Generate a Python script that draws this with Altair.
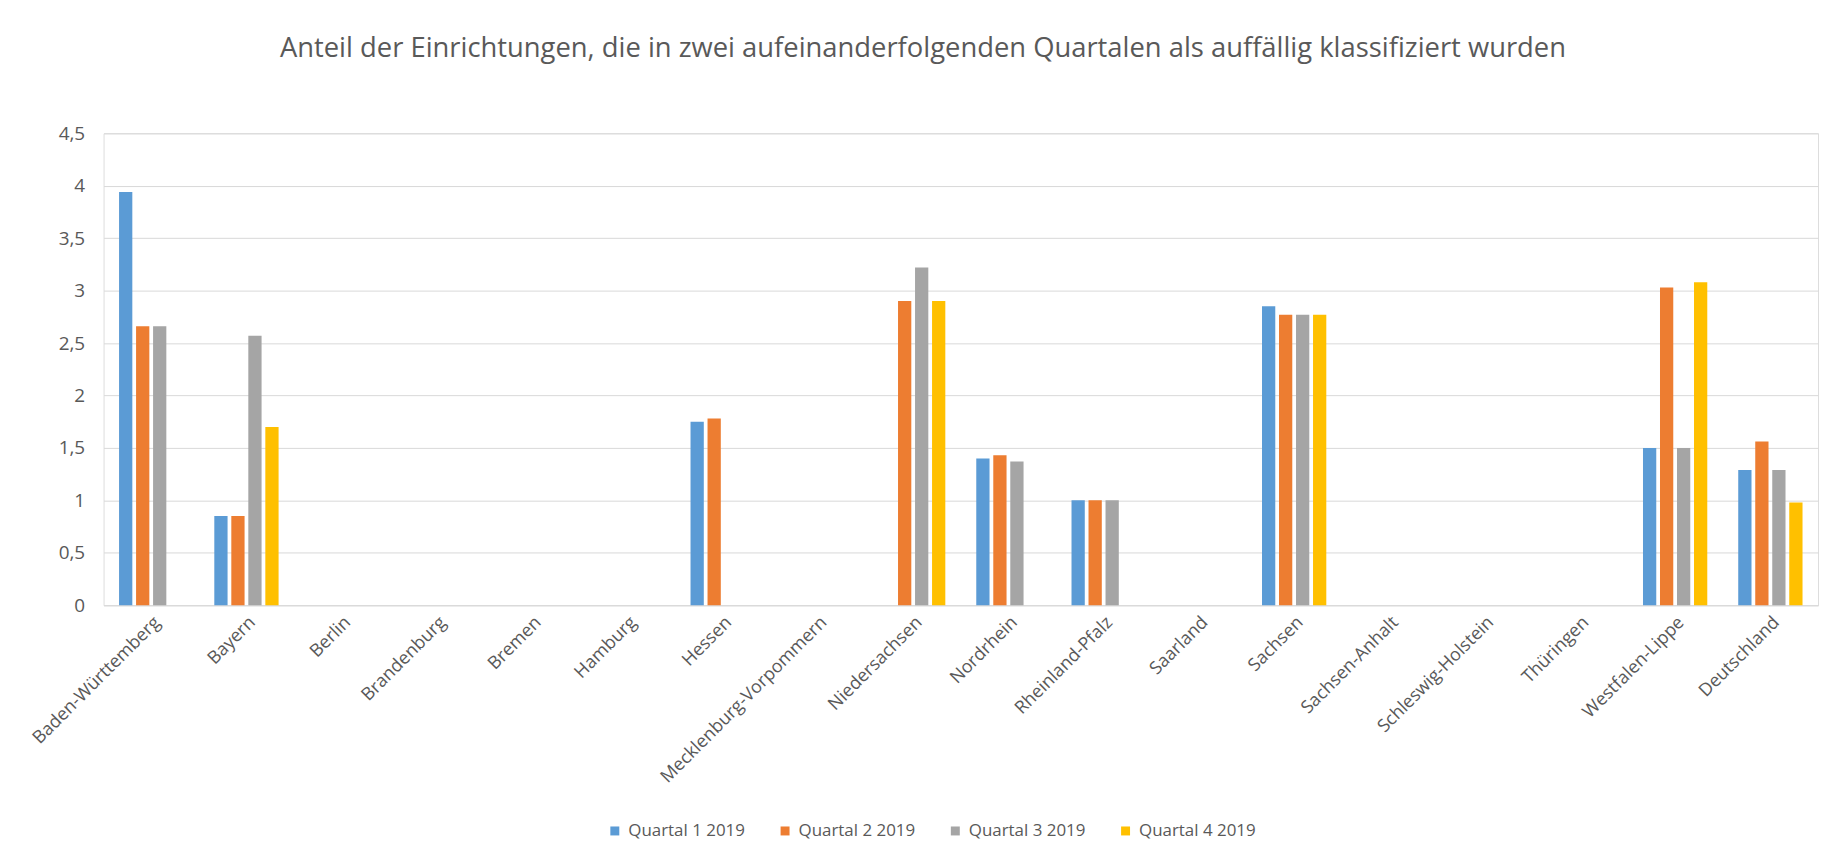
import altair as alt
import pandas as pd

states = [
    "Baden-Württemberg", "Bayern", "Berlin", "Brandenburg", "Bremen", "Hamburg",
    "Hessen", "Mecklenburg-Vorpommern", "Niedersachsen", "Nordrhein",
    "Rheinland-Pfalz", "Saarland", "Sachsen", "Sachsen-Anhalt",
    "Schleswig-Holstein", "Thüringen", "Westfalen-Lippe", "Deutschland",
]
quarters = ["Quartal 1 2019", "Quartal 2 2019", "Quartal 3 2019", "Quartal 4 2019"]
colors = ["#5B9BD5", "#ED7D31", "#A5A5A5", "#FFC000"]

q1 = [3.94, 0.85, None, None, None, None, 1.75, None, None, 1.40, 1.00, None, 2.85, None, None, None, 1.50, 1.29]
q2 = [2.66, 0.85, None, None, None, None, 1.78, None, 2.90, 1.43, 1.00, None, 2.77, None, None, None, 3.03, 1.56]
q3 = [2.66, 2.57, None, None, None, None, None, None, 3.22, 1.37, 1.00, None, 2.77, None, None, None, 1.50, 1.29]
q4 = [None, 1.70, None, None, None, None, None, None, 2.90, None, None, None, 2.77, None, None, None, 3.08, 0.98]

rows = []
for qname, series in zip(quarters, [q1, q2, q3, q4]):
    for s, v in zip(states, series):
        rows.append({"Land": s, "Quartal": qname, "Wert": v})
df = pd.DataFrame(rows)

FONT = "Open Sans"
GREY = "#595959"

chart = (
    alt.Chart(df)
    .transform_filter("isValid(datum.Wert)")
    .mark_bar()
    .encode(
        x=alt.X(
            "Land:N",
            scale=alt.Scale(domain=states, paddingInner=0.325, paddingOuter=0.1625),
            axis=alt.Axis(
                title=None, labelAngle=-45, labelFontSize=18, labelFont=FONT,
                labelColor=GREY, domainColor="#d9d9d9", domainWidth=1,
                ticks=False, labelPadding=8, grid=False, labelLimit=400,
            ),
        ),
        xOffset=alt.XOffset(
            "Quartal:N",
            scale=alt.Scale(domain=quarters, paddingInner=0.22, paddingOuter=0),
        ),
        y=alt.Y(
            "Wert:Q",
            scale=alt.Scale(domain=[0, 4.5], nice=False),
            axis=alt.Axis(
                title=None, values=[0, 0.5, 1, 1.5, 2, 2.5, 3, 3.5, 4, 4.5],
                labelExpr="replace(format(datum.value, '~g'), '.', ',')",
                domain=False, ticks=False, labelPadding=19,
                gridColor="#d9d9d9", gridWidth=1,
                labelFontSize=19, labelFont=FONT, labelColor=GREY,
            ),
        ),
        color=alt.Color(
            "Quartal:N",
            scale=alt.Scale(domain=quarters, range=colors),
            legend=alt.Legend(
                title=None, orient="none", legendX=505, legendY=692,
                direction="horizontal", symbolType="square", symbolSize=81,
                labelFontSize=17, labelFont=FONT, labelColor=GREY,
                columnPadding=31, labelOffset=5, symbolStrokeWidth=0,
                labelLimit=300,
            ),
        ),
    )
    .properties(
        width=1722,
        height=474,
        title=alt.TitleParams(
            "Anteil der Einrichtungen, die in zwei aufeinanderfolgenden Quartalen als auffällig klassifiziert wurden",
            fontSize=27.5, font=FONT, color=GREY, fontWeight="normal",
            anchor="middle", offset=62, dx=-38,
        ),
        autosize=alt.AutoSizeParams(type="none"),
        padding={"left": 96, "top": 124, "right": 1, "bottom": 239},
    )
    .configure_view(strokeWidth=0)
    .configure(background="white")
)

chart.save("out.html", embed_options={"renderer": "svg", "actions": False})
